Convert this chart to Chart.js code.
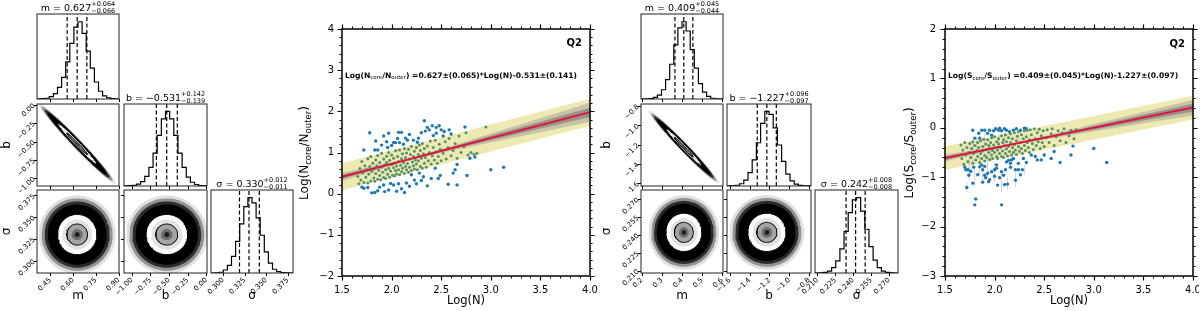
<!DOCTYPE html>
<html>
<head>
<meta charset="utf-8">
<script src="https://cdn.jsdelivr.net/npm/chart.js@4.4.1/dist/chart.umd.min.js"></script>
<style>
  body { margin: 0; background: #fff; width: 1200px; height: 311px; position: relative; overflow: hidden; }
  canvas { position: absolute; }
</style>
</head>
<body>
<script>
// =================== DATA ===================
// left corner plot : Log(Ncore/Nouter) = m*Log(N) + b, scatter sigma
const A_RANGE_M = [0.362, 0.903];
const A_RANGE_B = [-1.105, 0.01];
const A_RANGE_S = [0.286, 0.381];
const A_TICKS_M = [0.45, 0.60, 0.75, 0.90];
const A_TICKS_B = [-1.00, -0.75, -0.50, -0.25, 0.00];
const A_TICKS_S = [0.300, 0.325, 0.350, 0.375];
const A_HIST_M = [0.002, 0.004, 0.01, 0.03, 0.07, 0.15, 0.28, 0.48, 0.72, 0.93, 1.0, 0.85, 0.62, 0.40, 0.22, 0.10, 0.04, 0.015, 0.005, 0.002];
const A_HIST_B = [0.002, 0.004, 0.01, 0.025, 0.06, 0.13, 0.25, 0.44, 0.68, 0.90, 1.0, 0.90, 0.68, 0.44, 0.25, 0.12, 0.05, 0.02, 0.006, 0.002];
const A_HIST_S = [0, 0.003, 0.01, 0.04, 0.10, 0.22, 0.42, 0.65, 0.88, 1.0, 0.93, 0.73, 0.50, 0.28, 0.13, 0.05, 0.018, 0.005, 0.001, 0];
const A_QUANT_M = [0.561, 0.627, 0.691];
const A_QUANT_B = [-0.670, -0.531, -0.389];
const A_QUANT_S = [0.319, 0.330, 0.342];
const A_MEAN = [0.627, -0.531, 0.330];
const A_SD = [0.065, 0.140, 0.0115];
const A_RHO_MB = -0.985;
const A_TITLES = [["m = 0.627", "+0.064", "\u22120.066"], ["b = \u22120.531", "+0.142", "\u22120.139"], ["\u03c3 = 0.330", "+0.012", "\u22120.011"]];

// right corner plot : Log(Score/Souter) = m*Log(N) + b, scatter sigma
const B_RANGE_M = [0.196, 0.604];
const B_RANGE_B = [-1.63, -0.78];
const B_RANGE_S = [0.208, 0.2775];
const B_TICKS_M = [0.2, 0.3, 0.4, 0.5, 0.6];
const B_TICKS_B = [-1.6, -1.4, -1.2, -1.0, -0.8];
const B_TICKS_S = [0.210, 0.225, 0.240, 0.255, 0.270];
const B_HIST_M = [0, 0.002, 0.006, 0.02, 0.05, 0.12, 0.25, 0.45, 0.70, 0.92, 1.0, 0.88, 0.64, 0.40, 0.20, 0.09, 0.035, 0.01, 0.003, 0.001];
const B_HIST_B = [0.001, 0.003, 0.01, 0.03, 0.08, 0.18, 0.35, 0.58, 0.84, 1.0, 0.96, 0.78, 0.55, 0.33, 0.16, 0.07, 0.025, 0.008, 0.002, 0.001];
const B_HIST_S = [0, 0.002, 0.008, 0.025, 0.07, 0.16, 0.32, 0.55, 0.80, 0.97, 1.0, 0.82, 0.58, 0.35, 0.17, 0.07, 0.025, 0.008, 0.002, 0];
const B_QUANT_M = [0.365, 0.409, 0.454];
const B_QUANT_B = [-1.324, -1.227, -1.131];
const B_QUANT_S = [0.234, 0.242, 0.250];
const B_MEAN = [0.409, -1.227, 0.242];
const B_SD = [0.045, 0.097, 0.008];
const B_RHO_MB = -0.985;
const B_TITLES = [["m = 0.409", "+0.045", "\u22120.044"], ["b = \u22121.227", "+0.096", "\u22120.097"], ["\u03c3 = 0.242", "+0.008", "\u22120.008"]];

const HIST_TOP = 1.1;
// contour levels of the 2d panels, in units of the posterior sd
const CONTOUR_K = [3.9, 3.6, 3.3, 3.0, 2.0, 1.5, 1.05, 0.55, 0.25];

// scatter panels
const X_TICKS = [1.5, 2.0, 2.5, 3.0, 3.5, 4.0];
const Y_TICKS_A = [-2, -1, 0, 1, 2, 3, 4];
const Y_TICKS_B = [-3, -2, -1, 0, 1, 2];
const FIT_X = [1.5, 4.0];
const FIT_A = [0.41, 1.977];
const FIT_B = [-0.614, 0.409];
const YEL_UP_A = [0.74, 2.307];
const YEL_LO_A = [0.08, 1.647];
const YEL_UP_B = [-0.372, 0.651];
const YEL_LO_B = [-0.856, 0.167];
const GREY_X = [1.5, 1.8, 2.18, 2.6, 3.0, 3.5, 4.0];
const GREY_OUT_UP_A = [0.51, 0.66, 0.86, 1.16, 1.46, 1.83, 2.21];
const GREY_OUT_LO_A = [0.31, 0.54, 0.82, 1.04, 1.24, 1.49, 1.75];
const GREY_IN_UP_A = [0.46, 0.63, 0.85, 1.13, 1.41, 1.75, 2.09];
const GREY_IN_LO_A = [0.36, 0.57, 0.83, 1.07, 1.30, 1.58, 1.86];
const GREY_OUT_UP_B = [-0.54, -0.45, -0.32, -0.12, 0.075, 0.32, 0.57];
const GREY_OUT_LO_B = [-0.68, -0.53, -0.35, -0.20, -0.075, 0.09, 0.25];
const GREY_IN_UP_B = [-0.58, -0.47, -0.327, -0.144, 0.038, 0.262, 0.489];
const GREY_IN_LO_B = [-0.65, -0.51, -0.343, -0.184, -0.038, 0.147, 0.329];

const BLUE_A = [
  [2.33,1.77],[1.78,1.48],[1.84,1.28],[1.92,1.40],[1.97,1.47],[2.07,1.49],[2.10,1.49],[2.06,1.34],[2.14,1.35],[2.18,1.44],
  [2.30,1.48],[2.36,1.61],[2.45,1.61],[2.48,1.65],[2.50,1.55],[2.53,1.51],[2.58,1.55],[2.45,1.47],[2.42,1.41],[2.27,1.35],
  [2.74,1.62],[1.72,1.06],[1.83,1.06],[1.86,1.06],[2.02,1.24],[2.04,1.24],[2.08,1.24],[2.12,1.20],[1.90,1.18],[1.95,1.26],
  [2.22,1.30],[2.26,1.25],[2.16,1.30],[2.38,1.55],[2.52,1.40],[2.60,1.45],[2.34,1.52],[2.41,1.65],[1.96,1.12],[2.00,1.17],
  [1.72,0.13],[1.76,0.15],[1.83,0.03],[1.86,0.07],[1.92,0.21],[1.93,0.05],[1.97,0.09],[2.02,0.21],[2.07,0.24],[2.13,0.03],
  [2.20,0.46],[2.23,0.33],[2.28,0.50],[2.32,0.41],[2.36,0.19],[2.40,0.37],[2.44,0.62],[2.47,0.37],[2.49,0.44],[2.57,0.23],
  [2.62,0.50],[2.64,0.58],[2.66,0.71],[2.66,0.21],[2.76,0.44],[2.79,0.86],[2.84,0.89],[3.00,0.58],[3.13,0.64],[1.80,0.02],
  [1.88,0.16],[1.99,0.25],[2.10,0.12],[2.15,0.26],[2.18,0.18],[2.25,0.24],[1.70,0.16],[2.05,0.06],[2.30,0.32]
];
const GREEN_A = [
  [1.66,0.42],[1.67,0.24],[1.68,0.61],[1.69,0.33],[1.70,0.78],[1.71,0.50],[1.72,0.27],[1.73,0.68],[1.74,0.40],[1.75,0.58],
  [1.76,0.26],[1.76,0.85],[1.77,0.47],[1.78,0.66],[1.79,0.31],[1.79,0.90],[1.80,0.54],[1.81,0.74],[1.82,0.38],[1.82,0.60],
  [1.83,0.30],[1.84,0.82],[1.84,0.49],[1.85,0.68],[1.86,0.35],[1.86,0.93],[1.87,0.57],[1.88,0.44],[1.88,0.76],[1.89,0.34],
  [1.90,0.64],[1.90,0.98],[1.91,0.52],[1.92,0.84],[1.92,0.39],[1.93,0.70],[1.94,0.58],[1.94,0.37],[1.95,0.91],[1.95,0.76],
  [1.96,0.47],[1.97,0.62],[1.97,1.00],[1.98,0.40],[1.98,0.81],[1.99,0.55],[2.00,0.70],[2.00,0.94],[2.01,0.45],[2.02,0.63],
  [2.02,0.86],[2.03,0.43],[2.03,0.74],[2.04,0.56],[2.04,1.04],[2.05,0.67],[2.05,0.48],[2.06,0.90],[2.07,0.58],[2.07,0.78],
  [2.08,0.46],[2.08,1.06],[2.09,0.69],[2.10,0.85],[2.10,0.53],[2.11,0.97],[2.11,0.62],[2.12,0.75],[2.13,0.49],[2.13,1.10],
  [2.14,0.66],[2.14,0.88],[2.15,0.58],[2.15,0.99],[2.16,0.73],[2.17,0.52],[2.17,1.08],[2.18,0.84],[2.18,0.64],[2.19,0.95],
  [2.20,0.56],[2.20,1.15],[2.21,0.77],[2.22,0.68],[2.22,0.90],[2.23,1.03],[2.23,0.60],[2.24,0.82],[2.25,0.72],[2.25,1.12],
  [2.26,0.58],[2.27,0.95],[2.27,0.80],[2.28,1.18],[2.29,0.66],[2.29,1.05],[2.30,0.86],[2.31,0.62],[2.31,1.22],[2.32,0.97],
  [2.33,0.74],[2.33,1.10],[2.34,0.88],[2.35,0.64],[2.36,1.16],[2.37,0.80],[2.38,1.00],[2.39,1.28],[2.40,0.72],[2.41,0.92],
  [2.42,1.12],[2.43,0.82],[2.44,1.30],[2.45,1.02],[2.46,0.74],[2.47,0.90],[2.48,1.20],[2.49,1.08],[2.50,0.80],[2.52,0.98],
  [2.54,1.26],[2.55,0.84],[2.57,1.12],[2.58,1.34],[2.60,0.92],[2.62,1.05],[2.64,1.22],[2.66,0.86],[2.68,1.40],[2.70,1.00],
  [2.73,1.14],[2.75,1.48],[2.77,0.94],[2.80,1.00],[2.83,0.96],[2.86,0.98],[2.95,1.62]
];
const BLUE_B = [
  [1.78,-0.05],[1.84,-0.11],[1.87,-0.05],[1.90,-0.05],[1.93,-0.11],[1.95,-0.05],[1.99,-0.06],[2.01,-0.02],[2.04,-0.05],[2.05,-0.01],
  [2.07,-0.06],[2.10,-0.02],[2.12,-0.05],[2.15,-0.08],[2.19,-0.05],[2.22,-0.02],[2.26,-0.05],[2.30,-0.01],[2.32,-0.02],[1.85,-0.21],
  [1.97,-0.15],[1.80,-0.21],[1.70,-0.80],[1.71,-0.85],[1.74,-0.96],[1.72,-1.21],[1.78,-1.12],[1.81,-1.44],[1.80,-1.56],[1.85,-0.79],
  [1.87,-0.75],[1.88,-0.85],[1.90,-0.96],[1.91,-1.01],[1.93,-0.92],[1.94,-1.09],[1.97,-0.89],[2.00,-0.85],[2.02,-0.82],[2.03,-1.16],
  [2.05,-1.01],[2.07,-0.89],[2.07,-1.56],[2.09,-0.96],[2.11,-0.85],[2.12,-0.69],[2.13,-1.14],[2.16,-0.72],[2.17,-0.65],[2.19,-0.62],
  [2.21,-0.85],[2.21,-1.06],[2.24,-0.85],[2.28,-0.85],[2.29,-0.62],[2.37,-0.55],[2.41,-0.58],[2.43,-0.65],[2.47,-0.65],[2.50,-0.55],
  [2.57,-0.62],[2.60,-0.48],[2.66,-0.70],[2.77,-0.55],[2.79,-0.37],[3.00,-0.42],[3.13,-0.70],[1.76,-0.88],[1.83,-0.95],[1.88,-1.10],
  [1.95,-1.05],[2.00,-0.98],[2.10,-1.15],[2.16,-0.80],[2.24,-0.72],[2.26,-0.95],[1.90,-0.78],[2.02,-0.75],[1.73,-0.85],[1.79,-0.80],
  [2.14,-0.66],[2.32,-0.70]
];
const GREEN_B = [
  [1.66,-0.35],[1.67,-0.62],[1.68,-0.45],[1.69,-0.74],[1.70,-0.30],[1.71,-0.55],[1.72,-0.40],[1.73,-0.68],[1.74,-0.50],[1.75,-0.32],
  [1.76,-0.60],[1.77,-0.42],[1.78,-0.72],[1.78,-0.28],[1.79,-0.52],[1.80,-0.36],[1.81,-0.65],[1.82,-0.46],[1.83,-0.30],[1.83,-0.58],
  [1.84,-0.40],[1.85,-0.70],[1.86,-0.52],[1.86,-0.26],[1.87,-0.62],[1.88,-0.38],[1.88,-0.47],[1.89,-0.23],[1.90,-0.56],[1.90,-0.67],
  [1.91,-0.33],[1.92,-0.44],[1.92,-0.60],[1.93,-0.24],[1.94,-0.50],[1.94,-0.36],[1.95,-0.64],[1.95,-0.42],[1.96,-0.30],[1.97,-0.55],
  [1.97,-0.20],[1.98,-0.46],[1.98,-0.62],[1.99,-0.35],[2.00,-0.50],[2.00,-0.18],[2.01,-0.40],[2.02,-0.58],[2.02,-0.28],[2.03,-0.45],
  [2.03,-0.62],[2.04,-0.33],[2.04,-0.22],[2.05,-0.52],[2.06,-0.40],[2.07,-0.16],[2.07,-0.58],[2.08,-0.30],[2.08,-0.47],[2.09,-0.60],
  [2.09,-0.24],[2.10,-0.36],[2.11,-0.52],[2.11,-0.14],[2.12,-0.43],[2.12,-0.28],[2.13,-0.57],[2.14,-0.20],[2.14,-0.38],[2.15,-0.48],
  [2.16,-0.30],[2.16,-0.12],[2.17,-0.55],[2.18,-0.40],[2.18,-0.22],[2.19,-0.50],[2.20,-0.10],[2.20,-0.34],[2.21,-0.45],[2.22,-0.26],
  [2.22,-0.54],[2.23,-0.17],[2.24,-0.38],[2.24,-0.08],[2.25,-0.48],[2.26,-0.30],[2.27,-0.14],[2.27,-0.42],[2.28,-0.52],[2.29,-0.22],
  [2.30,-0.06],[2.30,-0.36],[2.31,-0.46],[2.32,-0.18],[2.33,-0.30],[2.33,-0.05],[2.34,-0.40],[2.35,-0.24],[2.35,-0.50],[2.36,-0.04],
  [2.37,-0.14],[2.38,-0.32],[2.39,-0.44],[2.40,-0.02],[2.41,-0.22],[2.42,-0.36],[2.43,-0.10],[2.44,-0.28],[2.45,-0.03],[2.46,-0.42],
  [2.47,-0.16],[2.48,-0.30],[2.49,-0.06],[2.50,-0.38],[2.52,-0.20],[2.53,-0.04],[2.55,-0.30],[2.57,-0.12],[2.58,-0.02],[2.60,-0.36],
  [2.62,-0.18],[2.64,-0.06],[2.66,-0.26],[2.68,-0.10],[2.70,-0.02],[2.72,-0.30],[2.75,-0.16],[2.77,-0.05],[2.80,-0.22],[2.82,-0.04]
];
// vertical error bars in the right scatter panel: [x, low, high]
const ERR_B = [
  [1.72,-1.30,-1.10],[1.74,-1.05,-0.70],[1.75,-0.95,-0.35],[1.78,-0.80,-0.30],[1.80,-1.20,-0.85],[1.82,-0.60,-0.20],[1.85,-0.95,-0.60],
  [1.88,-1.15,-0.75],[1.90,-0.40,-0.05],[1.93,-1.00,-0.55],[1.96,-0.70,-0.30],[2.00,-1.10,-0.70],[2.04,-0.55,-0.15],[2.07,-1.30,-0.85],
  [2.10,-0.45,-0.10],[2.13,-1.25,-1.00],[2.18,-0.70,-0.40],[2.21,-1.20,-0.90],[2.25,-0.50,-0.20],[2.30,-0.95,-0.75]
];

// =================== STYLE ===================
Chart.defaults.font.family = "'DejaVu Sans', sans-serif";
Chart.defaults.color = "#000";
Chart.defaults.animation = false;

const ROWS = [[14, 99], [104, 186], [190, 273]];
const CONTOUR_FILL = ["rgba(0,0,0,0.12)", "rgba(0,0,0,0.35)", "rgba(0,0,0,0.7)", "#000", "#fff", "#e2e2e2", "#a4a4a4", "#6c6c6c", "#1c1c1c"];
const CONTOUR_LINE = [0, 0, 0, 0, 1, 0, 1, 0, 0];
const minus = s => String(s).replace("-", "\u2212");

// =================== DECOR PLUGIN (frame, ticks, rich text) ===================
function partFont(p) { return (p.b ? "bold " : "") + p.s + "px 'DejaVu Sans', sans-serif"; }
function drawRich(ctx, parts, x, y, align, rot) {
  ctx.save();
  ctx.translate(x, y);
  if (rot) ctx.rotate(rot);
  const widths = parts.map(p => {
    ctx.font = partFont(p);
    if (p.sup !== undefined) return Math.max(ctx.measureText(p.sup).width, ctx.measureText(p.sub).width);
    return ctx.measureText(p.t).width;
  });
  const total = widths.reduce((a, b) => a + b, 0);
  let cx = align === "center" ? -total / 2 : align === "right" ? -total : 0;
  ctx.textAlign = "left";
  ctx.textBaseline = "alphabetic";
  ctx.fillStyle = "#000";
  parts.forEach((p, i) => {
    ctx.font = partFont(p);
    if (p.sup !== undefined) {
      ctx.fillText(p.sup, cx, -5);
      ctx.fillText(p.sub, cx, 2);
    } else {
      ctx.fillText(p.t, cx, p.dy || 0);
    }
    cx += widths[i];
  });
  ctx.restore();
}

const decor = {
  id: "decor",
  afterDatasetsDraw(chart, args, o) {
    const { ctx, chartArea: a, scales } = chart;
    ctx.save();
    ctx.strokeStyle = "#000";
    (o.ticks || []).forEach(t => {
      const sc = scales[t.axis];
      ctx.lineWidth = t.width || 1;
      t.values.forEach(v => {
        const p = Math.round(sc.getPixelForValue(v)) + 0.5;
        ctx.beginPath();
        t.sides.forEach(side => {
          if (side === "bottom") { ctx.moveTo(p, a.bottom); ctx.lineTo(p, a.bottom + t.len); }
          if (side === "top") { ctx.moveTo(p, a.top); ctx.lineTo(p, a.top - t.len); }
          if (side === "left") { ctx.moveTo(a.left, p); ctx.lineTo(a.left - t.len, p); }
          if (side === "right") { ctx.moveTo(a.right, p); ctx.lineTo(a.right + t.len, p); }
        });
        ctx.stroke();
      });
    });
    ctx.lineWidth = o.frame || 1;
    ctx.strokeStyle = o.frameColor || "#000";
    ctx.strokeRect(a.left, a.top, a.right - a.left, a.bottom - a.top);
    (o.texts || []).forEach(t => {
      let x, y;
      if (t.data) { x = scales.x.getPixelForValue(t.data[0]); y = scales.y.getPixelForValue(t.data[1]); }
      else if (t.title) { x = (a.left + a.right) / 2; y = a.top - 3; }
      else { x = t.px[0]; y = t.px[1]; }
      drawRich(ctx, t.parts, x, y, t.align || "left", t.rot || 0);
    });
    ctx.restore();
  }
};
Chart.register(decor);

// =================== BUILDERS ===================
function axis(range, ticks, fmt, show, size, opt) {
  return {
    type: "linear", min: range[0], max: range[1], display: show,
    afterBuildTicks: s => { s.ticks = ticks.map(v => ({ value: v })); },
    afterFit: s => {
      const sz = show ? size : 0;
      if (s.isHorizontal()) s.height = sz; else s.width = sz;
      s.paddingLeft = s.paddingRight = s.paddingTop = s.paddingBottom = 0;
    },
    grid: { display: false, drawTicks: false },
    border: { display: false },
    ticks: {
      autoSkip: false, font: { size: opt.font }, padding: opt.pad,
      minRotation: opt.rot, maxRotation: opt.rot,
      callback: v => minus(fmt(v))
    },
    title: opt.title ? { display: true, text: opt.title, font: { size: opt.titleSize }, padding: 0 } : { display: false }
  };
}

function makeChart(box, m, xAxis, yAxis, datasets, decorOpts) {
  const cv = document.createElement("canvas");
  const w = box.r - box.l + m.l + m.r, h = box.b - box.t + m.t + m.b;
  cv.width = w; cv.height = h;
  cv.style.left = (box.l - m.l) + "px";
  cv.style.top = (box.t - m.t) + "px";
  cv.style.width = w + "px";
  cv.style.height = h + "px";
  document.body.appendChild(cv);
  datasets.forEach((d, i) => { d.order = datasets.length - i; });
  return new Chart(cv, {
    type: "scatter",
    data: { datasets },
    options: {
      responsive: false, animation: false, devicePixelRatio: 1,
      layout: { autoPadding: false, padding: { left: yAxis.display ? 0 : m.l, right: m.r, top: m.t, bottom: xAxis.display ? 0 : m.b } },
      scales: { x: xAxis, y: yAxis },
      plugins: { legend: { display: false }, tooltip: { enabled: false }, decor: decorOpts }
    }
  });
}

function histSets(counts, range, quants) {
  const n = counts.length, step = (range[1] - range[0]) / n;
  const pts = [{ x: range[0], y: 0 }];
  counts.forEach((v, i) => pts.push({ x: range[0] + i * step, y: v }));
  pts.push({ x: range[1], y: counts[n - 1] }, { x: range[1], y: 0 });
  const sets = [{ type: "line", data: pts, stepped: "before", borderColor: "#000", borderWidth: 1.2, pointRadius: 0, fill: false }];
  quants.forEach(q => sets.push({
    type: "line", data: [{ x: q, y: 0 }, { x: q, y: HIST_TOP }],
    borderColor: "#000", borderWidth: 1.2, borderDash: [4, 2.5], pointRadius: 0, fill: false
  }));
  return sets;
}

function ellipse(mx, my, sx, sy, rho, k) {
  const pts = [], n = 96, q = Math.sqrt(1 - rho * rho);
  for (let i = 0; i <= n; i++) {
    const t = 2 * Math.PI * i / n, u = Math.cos(t), w = Math.sin(t);
    pts.push({ x: mx + sx * k * u, y: my + sy * k * (rho * u + q * w) });
  }
  return pts;
}

function contourSets(c, kx, ky) {
  const rho = (kx === 0 && ky === 1) ? c.rho : 0;
  return CONTOUR_K.map((k, i) => ({
    type: "line", data: ellipse(c.mean[kx], c.mean[ky], c.sd[kx], c.sd[ky], rho, k),
    fill: "shape", backgroundColor: CONTOUR_FILL[i],
    borderColor: CONTOUR_LINE[i] ? "#000" : "transparent", borderWidth: CONTOUR_LINE[i],
    pointRadius: 0, tension: 0
  }));
}

function buildCorner(c) {
  const names = ["m", "b", "\u03c3"];
  for (let r = 0; r < 3; r++) {
    for (let k = 0; k <= r; k++) {
      const box = { l: c.cols[k][0], r: c.cols[k][1], t: ROWS[r][0], b: ROWS[r][1] };
      const showX = r === 2, showY = k === 0 && r > 0, isHist = r === k;
      const m = { l: showY ? box.l - c.left : 30, r: 6, t: isHist ? 16 : 4, b: showX ? 30 : 6 };
      const xAxis = axis(c.ranges[k], c.ticks[k], c.fmt[k], showX, m.b,
        { font: 7, pad: 3, rot: 45, title: names[k], titleSize: 12 });
      const yAxis = isHist
        ? axis([0, HIST_TOP], [], v => v, false, 0, { font: 7, pad: 3, rot: 0 })
        : axis(c.ranges[r], c.ticks[r], c.fmt[r], showY, m.l, { font: 7, pad: 3, rot: 45, title: names[r], titleSize: 12 });
      const ticks = [{ axis: "x", values: c.ticks[k], sides: ["bottom"], len: 3 }];
      if (!isHist) ticks.push({ axis: "y", values: c.ticks[r], sides: ["left"], len: 3 });
      const texts = isHist ? [{ title: true, align: "center", parts: [
        { t: c.titles[k][0], s: 9.5 },
        { sup: c.titles[k][1], sub: c.titles[k][2], s: 6.5 }
      ] }] : [];
      const datasets = isHist ? histSets(c.hists[k], c.ranges[k], c.quants[k]) : contourSets(c, k, r);
      makeChart(box, m, xAxis, yAxis, datasets, { frame: 1, frameColor: "#222", ticks, texts });
    }
  }
}

function minorValues(lo, hi, step, majors) {
  const out = [];
  for (let v = lo; v <= hi + 1e-9; v += step) {
    const r = Math.round(v * 100) / 100;
    if (!majors.some(mj => Math.abs(mj - r) < 1e-6)) out.push(r);
  }
  return out;
}

function pairs(arr) { return arr.map(p => ({ x: p[0], y: p[1] })); }
function band(xs, up, lo, color) {
  return [
    { type: "line", data: xs.map((x, i) => ({ x, y: up[i] })), borderWidth: 0, borderColor: "transparent", pointRadius: 0, fill: "+1", backgroundColor: color },
    { type: "line", data: xs.map((x, i) => ({ x, y: lo[i] })), borderWidth: 0, borderColor: "transparent", pointRadius: 0, fill: false }
  ];
}

function buildScatter(p) {
  const box = p.box;
  const m = { l: box.l - p.canvasLeft, r: p.right, t: box.t, b: 311 - box.b };
  const xAxis = axis([1.5, 4.0], X_TICKS, v => v.toFixed(1), true, m.b, { font: 10, pad: 8, rot: 0, title: "Log(N)", titleSize: 11.5 });
  xAxis.title.padding = { top: 0, bottom: 3 };
  const yAxis = axis(p.yRange, p.yTicks, v => v.toFixed(0), true, m.l, { font: 10, pad: p.yPad, rot: 0 });
  let datasets = [].concat(
    band(FIT_X, p.yelUp, p.yelLo, "rgba(234,228,158,0.8)"),
    band(GREY_X, p.greyOutUp, p.greyOutLo, "rgba(150,150,150,0.45)"),
    band(GREY_X, p.greyInUp, p.greyInLo, "rgba(110,110,110,0.55)")
  );
  if (p.err) {
    const seg = [];
    p.err.forEach(e => { seg.push({ x: e[0], y: e[1] }, { x: e[0], y: e[2] }, { x: e[0], y: null }); });
    datasets.push({ type: "line", data: seg, borderColor: "rgba(175,175,175,0.55)", borderWidth: 1, pointRadius: 0, fill: false, spanGaps: false });
  }
  datasets.push(
    { type: "scatter", data: pairs(p.blue), pointRadius: 1.7, pointBackgroundColor: "#1f77b4", pointBorderWidth: 0 },
    { type: "scatter", data: pairs(p.green), pointRadius: 1.5, pointBackgroundColor: "#55916d", pointBorderWidth: 0 },
    { type: "line", data: FIT_X.map((x, i) => ({ x, y: p.fit[i] })), borderColor: "#e0163f", borderWidth: 2, pointRadius: 0, fill: false }
  );
  const xMinor = minorValues(1.5, 4.0, 0.1, X_TICKS);
  const yMinor = minorValues(p.yRange[0], p.yRange[1], 0.2, p.yTicks);
  const ticks = [
    { axis: "x", values: X_TICKS, sides: ["bottom", "top"], len: 4.5, width: 1.2 },
    { axis: "x", values: xMinor, sides: ["bottom", "top"], len: 2.5, width: 1 },
    { axis: "y", values: p.yTicks, sides: ["left", "right"], len: 4.5, width: 1.2 },
    { axis: "y", values: yMinor, sides: ["left", "right"], len: 2.5, width: 1 }
  ];
  const texts = [
    { data: p.q2At, align: "right", parts: [{ t: "Q2", s: 10, b: true }] },
    { data: p.eqAt, align: "left", parts: p.eq },
    { px: p.yTitleAt, align: "center", rot: -Math.PI / 2, parts: p.yTitle }
  ];
  makeChart(box, m, xAxis, yAxis, datasets, { frame: 1.5, ticks, texts });
}

// =================== INITIALIZE PAGE ===================
buildCorner({
  left: 0, cols: [[37, 119], [124, 207], [211, 293]],
  ranges: [A_RANGE_M, A_RANGE_B, A_RANGE_S], ticks: [A_TICKS_M, A_TICKS_B, A_TICKS_S],
  fmt: [v => v.toFixed(2), v => v.toFixed(2), v => v.toFixed(3)],
  hists: [A_HIST_M, A_HIST_B, A_HIST_S], quants: [A_QUANT_M, A_QUANT_B, A_QUANT_S],
  mean: A_MEAN, sd: A_SD, rho: A_RHO_MB, titles: A_TITLES
});
buildCorner({
  left: 600, cols: [[641, 723], [727, 811], [815, 898]],
  ranges: [B_RANGE_M, B_RANGE_B, B_RANGE_S], ticks: [B_TICKS_M, B_TICKS_B, B_TICKS_S],
  fmt: [v => v.toFixed(1), v => v.toFixed(1), v => v.toFixed(3)],
  hists: [B_HIST_M, B_HIST_B, B_HIST_S], quants: [B_QUANT_M, B_QUANT_B, B_QUANT_S],
  mean: B_MEAN, sd: B_SD, rho: B_RHO_MB, titles: B_TITLES
});

const EQ_A = [
  { t: "Log(N", s: 7.6, b: true }, { t: "core", s: 5.5, dy: 1.5 }, { t: "/N", s: 7.6, b: true },
  { t: "outer", s: 5.5, dy: 1.5 }, { t: ") =0.627\u00b1(0.065)*Log(N)-0.531\u00b1(0.141)", s: 7.6, b: true }
];
const EQ_B = [
  { t: "Log(S", s: 7.6, b: true }, { t: "core", s: 5.5, dy: 1.5 }, { t: "/S", s: 7.6, b: true },
  { t: "outer", s: 5.5, dy: 1.5 }, { t: ") =0.409\u00b1(0.045)*Log(N)-1.227\u00b1(0.097)", s: 7.6, b: true }
];
buildScatter({
  box: { l: 342, r: 590, t: 29, b: 276 }, canvasLeft: 290, right: 10, yPad: 8,
  yRange: [-2, 4], yTicks: Y_TICKS_A, fit: FIT_A, yelUp: YEL_UP_A, yelLo: YEL_LO_A,
  greyOutUp: GREY_OUT_UP_A, greyOutLo: GREY_OUT_LO_A, greyInUp: GREY_IN_UP_A, greyInLo: GREY_IN_LO_A,
  blue: BLUE_A, green: GREEN_A, q2At: [3.92, 3.59], eqAt: [1.53, 2.81], eq: EQ_A,
  yTitleAt: [18, 153],
  yTitle: [{ t: "Log(N", s: 12 }, { t: "core", s: 8.5, dy: 2.5 }, { t: "/N", s: 12 }, { t: "outer", s: 8.5, dy: 2.5 }, { t: ")", s: 12 }]
});
buildScatter({
  box: { l: 945, r: 1193, t: 29, b: 276 }, canvasLeft: 895, right: 6, yPad: 9,
  yRange: [-3, 2], yTicks: Y_TICKS_B, fit: FIT_B, yelUp: YEL_UP_B, yelLo: YEL_LO_B,
  greyOutUp: GREY_OUT_UP_B, greyOutLo: GREY_OUT_LO_B, greyInUp: GREY_IN_UP_B, greyInLo: GREY_IN_LO_B,
  blue: BLUE_B, green: GREEN_B, err: ERR_B, q2At: [3.92, 1.64], eqAt: [1.53, 1.0], eq: EQ_B,
  yTitleAt: [18, 153],
  yTitle: [{ t: "Log(S", s: 12 }, { t: "core", s: 8.5, dy: 2.5 }, { t: "/S", s: 12 }, { t: "outer", s: 8.5, dy: 2.5 }, { t: ")", s: 12 }]
});
</script>
</body>
</html>
